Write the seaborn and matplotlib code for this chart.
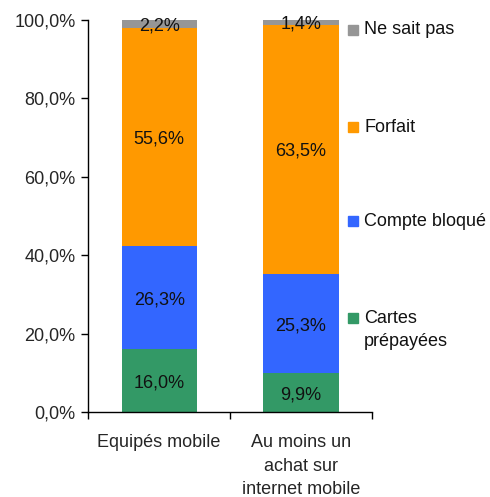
import matplotlib
matplotlib.use("Agg")
import matplotlib.pyplot as plt
import matplotlib.patches as mpatches
import pandas as pd
import seaborn as sns

# Data
categories = ["Equipés mobile", "Au moins un\nachat sur\ninternet mobile"]
series = ["Cartes prépayées", "Compte bloqué", "Forfait", "Ne sait pas"]
cartes = [16.0, 9.9]
compte = [26.3, 25.3]
forfait = [55.6, 63.5]
ne_sait = [2.2, 1.4]
colors = ["#339966", "#3366FF", "#FF9900", "#969696"]
yticks = [0, 20, 40, 60, 80, 100]

sns.set_style("ticks")
plt.rcParams["font.family"] = ["Liberation Sans", "DejaVu Sans"]
FS = 13

df = pd.DataFrame({"cat": categories, "Cartes prépayées": cartes,
                   "Compte bloqué": compte, "Forfait": forfait, "Ne sait pas": ne_sait})

fig = plt.figure(figsize=(4.9, 4.97), dpi=100)
ax = fig.add_axes([0.18, 0.171, 0.579, 0.789])

# stacked bars: draw cumulative totals from the top layer down
cum = df[series].cumsum(axis=1)
for s, c in reversed(list(zip(series, colors))):
    sns.barplot(x=df["cat"], y=cum[s], color=c, width=0.53, ax=ax,
                saturation=1, edgecolor="none")

# value labels in the middle of each segment
for i in range(len(categories)):
    for s in series:
        v = df.loc[i, s]
        mid = cum.loc[i, s] - v / 2
        ax.text(i, mid, f"{v:.1f}".replace(".", ",") + "%",
                ha="center", va="center_baseline", fontsize=FS, color="#111111")

ax.set_xlim(-0.5, 1.5)
ax.set_ylim(0, 100)
ax.set_yticks(yticks)
ax.set_yticklabels([f"{t:.1f}".replace(".", ",") + "%" for t in yticks], fontsize=FS)
ax.set_xticks(range(len(categories)))
ax.set_xticklabels(categories, fontsize=FS, linespacing=1.5)
ax.set_xticks([-0.5, 0.5, 1.5], minor=True)
ax.tick_params(axis="x", which="major", length=0, pad=16)
ax.tick_params(axis="x", which="minor", length=5, width=1, color="black", direction="out")
ax.tick_params(axis="y", length=5, width=1, color="black", direction="out", pad=4)
ax.set_xlabel("")
ax.set_ylabel("")
sns.despine(ax=ax)
for sp in ["left", "bottom"]:
    ax.spines[sp].set_color("black")
    ax.spines[sp].set_linewidth(1)

# legend entries at the right, level with their segments
legend_items = [
    ("Ne sait pas", "#969696", 30, 30),
    ("Forfait", "#FF9900", 127, 127),
    ("Compte bloqué", "#3366FF", 221, 221),
    ("Cartes\nprépayées", "#339966", 318, 330),
]
W, H = 490, 497
for label, col, ysq, ytxt in legend_items:
    fig.patches.append(mpatches.Rectangle((348 / W, 1 - (ysq + 5) / H), 10 / W, 10 / H,
                                          transform=fig.transFigure, color=col))
    fig.text(364 / W, 1 - ytxt / H, label, ha="left", va="center", fontsize=FS,
             color="#111111", linespacing=1.45)

fig.savefig("out.png", dpi=100)
